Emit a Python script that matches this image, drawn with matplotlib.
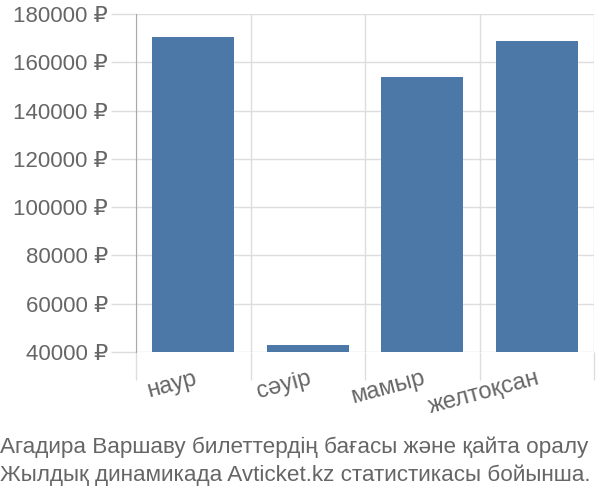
import matplotlib
matplotlib.use("Agg")
import matplotlib.pyplot as plt

plt.rcParams['font.family'] = ['Liberation Sans', 'DejaVu Sans']

categories = ["наур", "сәуір", "мамыр", "желтоқсан"]
values = [170500, 43000, 153900, 168800]
yticks = [40000, 60000, 80000, 100000, 120000, 140000, 160000, 180000]
ytick_labels = [f"{v} ₽" for v in yticks]
caption = ["Агадира Варшаву билеттердің бағасы және қайта оралу",
           "Жылдық динамикада Avticket.kz статистикасы бойынша."]

text_color = "#666666"
grid_color = "#dddddd"

fig = plt.figure(figsize=(6, 5), dpi=100)
ax = fig.add_axes([136/600, 1-352/500, (594-136)/600, (352-14)/500])

x = list(range(len(categories)))
ax.bar(x, values, width=0.72, color="#4c78a8", bottom=0, zorder=3)
ax.set_ylim(40000, 180000)
ax.set_xlim(-0.5, len(categories) - 0.5)

ax.set_yticks(yticks)
ax.set_yticklabels(ytick_labels)
ax.yaxis.grid(True, color=grid_color, linewidth=1, zorder=0)
ax.tick_params(axis='y', length=18, color=grid_color, labelsize=16, labelcolor=text_color, pad=2, width=1)

# vertical grid at category boundaries
bounds = [i - 0.5 for i in range(len(categories) + 1)]
ax.set_xticks(bounds, minor=True)
ax.xaxis.grid(True, which='minor', color=grid_color, linewidth=1, zorder=0)
ax.tick_params(axis='x', which='minor', length=20, color=grid_color, width=1)
ax.set_xticks(x)
ax.set_xticklabels(categories, rotation=15, ha='right', rotation_mode='anchor')
ax.tick_params(axis='x', which='major', length=0, labelsize=17, labelcolor=text_color, pad=11)

for s in ['top', 'right', 'bottom']:
    ax.spines[s].set_visible(False)
ax.spines['left'].set_color('#aaaaaa')

fig.text(0.0, 0.106, caption[0], fontsize=16.2, color=text_color, ha='left', va='center')
fig.text(0.0, 0.050, caption[1], fontsize=16.2, color=text_color, ha='left', va='center')

fig.savefig("out.png", dpi=100)
